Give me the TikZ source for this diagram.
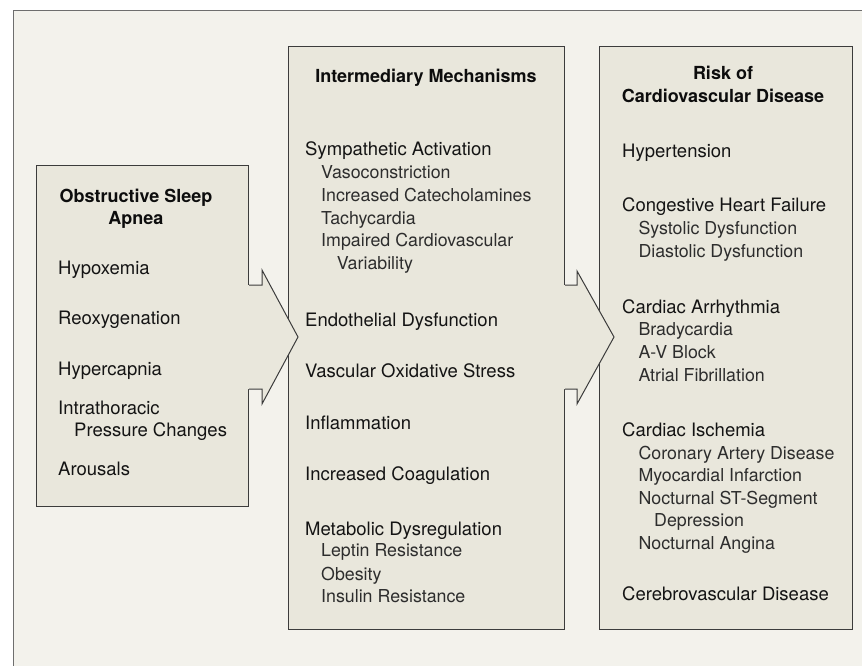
\documentclass[tikz,border=0pt]{standalone}
\usepackage{fontspec}
\setmainfont{TeX Gyre Heros}
\usetikzlibrary{calc}
\definecolor{pagebg}{RGB}{243,242,236}
\definecolor{boxfill}{RGB}{233,231,220}
\definecolor{boxline}{RGB}{60,60,60}
\definecolor{frameline}{RGB}{110,110,110}
\definecolor{subtext}{RGB}{45,45,45}
\begin{document}
\begin{tikzpicture}[x=1pt,y=-1pt,
  itm/.style={anchor=base west,inner sep=0pt,font=\fontsize{18.5}{22}\selectfont,text=black!92},
  subitm/.style={anchor=base west,inner sep=0pt,font=\fontsize{17.8}{22}\selectfont,text=subtext},
  ttl/.style={anchor=base,inner sep=0pt,font=\bfseries\fontsize{18}{22}\selectfont,text=black!95},
  panel/.style={draw=boxline,fill=boxfill,line width=1pt,anchor=north west,inner sep=0pt},
  arrowbody/.style={fill=boxfill},
  arrowline/.style={draw=boxline,line width=1pt,line join=miter}]
\useasboundingbox (0,0) rectangle (862,666);
\clip (0,0) rectangle (862,666);
\fill[white] (0,0) rectangle (862,666);
\draw[draw=frameline,fill=pagebg,line width=1pt] (13,11) rectangle (900,700);

% panels
\node[panel,minimum width=212,minimum height=341] (osa) at (36,165) {};
\node[panel,minimum width=276,minimum height=583] (mid) at (288,46) {};
\node[panel,minimum width=253,minimum height=583] (risk) at (599,46) {};

% arrow 1
\coordinate (tipA) at (298,337);
\fill[arrowbody] ($(osa.east |- 0,285)+(-1.5,0)$) -- (262,285) -- (262,270) -- (tipA)
  -- (262,404) -- (262,389) -- ($(osa.east |- 0,389)+(-1.5,0)$) -- cycle;
\draw[arrowline] (osa.east |- 0,285) -- (262,285) -- (262,270) -- (tipA)
  -- (262,404) -- (262,389) -- (osa.east |- 0,389);

% arrow 2
\coordinate (tipB) at (614,337);
\fill[arrowbody] ($(mid.east |- 0,285)+(-1.5,0)$) -- (577,285) -- (577,271) -- (tipB)
  -- (577,404) -- (577,389) -- ($(mid.east |- 0,389)+(-1.5,0)$) -- cycle;
\draw[arrowline] (mid.east |- 0,285) -- (577,285) -- (577,271) -- (tipB)
  -- (577,404) -- (577,389) -- (mid.east |- 0,389);

% left panel text
\node[ttl] (osat1) at (136,202.7) {Obstructive Sleep};
\node[ttl] (osat2) at (136,224) {Apnea};
\node[itm] (hypox) at (58,274) {Hypoxemia};
\node[itm] (reox) at (58,324) {Reoxygenation};
\node[itm] (hyperc) at (58,375) {Hypercapnia};
\node[itm] (intra) at (58,414) {Intrathoracic};
\node[itm] (press) at (74,436.7) {Pressure Changes};
\node[itm] (arous) at (58,475.7) {Arousals};

% middle panel text
\node[ttl] (midt) at (426,82.7) {Intermediary Mechanisms};
\node[itm] (symp) at (305,156) {Sympathetic Activation};
\node[subitm] (vaso) at (321,178.3) {Vasoconstriction};
\node[subitm] (catech) at (321,201) {Increased Catecholamines};
\node[subitm] (tachy) at (321,224) {Tachycardia};
\node[subitm] (impair) at (321,246) {Impaired Cardiovascular};
\node[subitm] (varia) at (336.7,269) {Variability};
\node[itm] (endo) at (305,326) {Endothelial Dysfunction};
\node[itm] (oxid) at (305,377) {Vascular Oxidative Stress};
\node[itm] (infl) at (305,429) {Inflammation};
\node[itm] (coag) at (305,480.7) {Increased Coagulation};
\node[itm] (metab) at (305,535) {Metabolic Dysregulation};
\node[subitm] (leptin) at (321,556.7) {Leptin Resistance};
\node[subitm] (obes) at (321,580) {Obesity};
\node[subitm] (insul) at (321,602.7) {Insulin Resistance};

% right panel text
\node[ttl] (riskt1) at (723,80) {Risk of};
\node[ttl] (riskt2) at (723,102.7) {Cardiovascular Disease};
\node[itm] (hypert) at (622,157.3) {Hypertension};
\node[itm] (chf) at (622,211.7) {Congestive Heart Failure};
\node[subitm] (systo) at (638.3,234.3) {Systolic Dysfunction};
\node[subitm] (diasto) at (638.3,257.3) {Diastolic Dysfunction};
\node[itm] (arrh) at (622,313.3) {Cardiac Arrhythmia};
\node[subitm] (brady) at (638.3,335.7) {Bradycardia};
\node[subitm] (avb) at (638.3,358.3) {A-V Block};
\node[subitm] (afib) at (638.3,381) {Atrial Fibrillation};
\node[itm] (isch) at (622,436.7) {Cardiac Ischemia};
\node[subitm] (cad) at (638.3,459.3) {Coronary Artery Disease};
\node[subitm] (mi) at (638.3,481.7) {Myocardial Infarction};
\node[subitm] (stseg) at (638.3,504.3) {Nocturnal ST-Segment};
\node[subitm] (depr) at (654,526.7) {Depression};
\node[subitm] (angina) at (638.3,549.3) {Nocturnal Angina};
\node[itm] (cereb) at (622,600) {Cerebrovascular Disease};
\end{tikzpicture}
\end{document}
